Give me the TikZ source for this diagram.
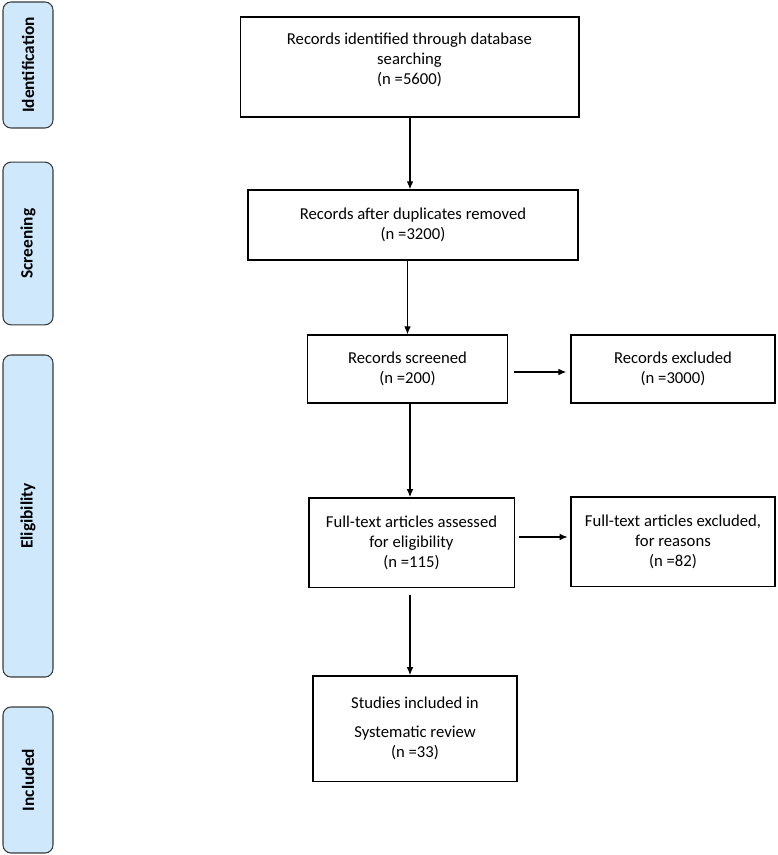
\documentclass[tikz,border=0pt]{standalone}
\usepackage{fontspec}
\setmainfont{Carlito}
\usetikzlibrary{arrows.meta}
\usetikzlibrary{shapes,arrows}
\usetikzlibrary{calc}

\definecolor{phasefill}{HTML}{CFE8FB}
\definecolor{phaseline}{HTML}{3A3A3A}

\tikzset{
  box/.style={draw,line width=1pt,align=center,font=\fontsize{12.5}{15}\selectfont,inner sep=2pt},
  phase/.style={draw=phaseline,fill=phasefill,rounded corners=6pt,line width=0.8pt,
    rotate=90,minimum height=37.5pt,font=\fontsize{13}{15}\bfseries\selectfont},
  arr/.style={line width=0.9pt,-{Latex[length=6pt,width=5pt]}}
}

\begin{document}
\begin{tikzpicture}[x=0.75pt,y=-0.75pt]
\useasboundingbox (0,0) rectangle (777,855);

% phase labels
\node[phase,minimum width=94.5pt] (id) at (28,65) {Identification};
\node[phase,minimum width=122pt] (scr) at (28,243.5) {Screening};
\node[phase,minimum width=241.5pt] (elig) at (28,516) {Eligibility};
\node[phase,minimum width=109.5pt] (inc) at (28,780) {Included};

% flow boxes
\node[box,minimum width=254pt,minimum height=75pt] (ident) at (409.5,67) {Records identified through database\\searching\\(n =5600)\\[-2.5pt]};
\node[box,minimum width=247.5pt,minimum height=52.5pt] (dup) at (413,225) {Records after duplicates removed\\(n =3200)};
\node[box,minimum width=150pt,minimum height=51pt] (scrn) at (407.5,369) {Records screened\\(n =200)};
\node[box,minimum width=153pt,minimum height=51pt] (excl) at (673,369) {Records excluded\\(n =3000)};
\node[box,minimum width=154pt,minimum height=67pt] (full) at (411.5,542.5) {Full-text articles assessed\\for eligibility\\(n =115)};
\node[box,minimum width=153pt,minimum height=67pt] (fullex) at (673,541.5) {Full-text articles excluded,\\for reasons\\(n =82)};
\node[box,minimum width=153pt,minimum height=79pt] (incl) at (415,728.5) {Studies included in\\[7pt]Systematic review\\(n =33)};

% arrow columns and rows
\coordinate (col) at (410,0);
\coordinate (rowA) at (0,372);
\coordinate (rowB) at (0,537);

% arrows
\draw[arr] (ident.south -| col) -- (dup.north -| col);
\draw[arr] (dup.south -| scrn.north) -- (scrn.north);
\draw[arr] (scrn.south -| col) -- (full.north -| col);
\draw[arr,shorten <=5pt] (full.south -| col) -- (incl.north -| col);
\draw[arr,shorten <=4pt,shorten >=3pt] (scrn.east |- rowA) -- (excl.west |- rowA);
\draw[arr,shorten <=3pt,shorten >=2pt] (full.east |- rowB) -- (fullex.west |- rowB);
\end{tikzpicture}
\end{document}
